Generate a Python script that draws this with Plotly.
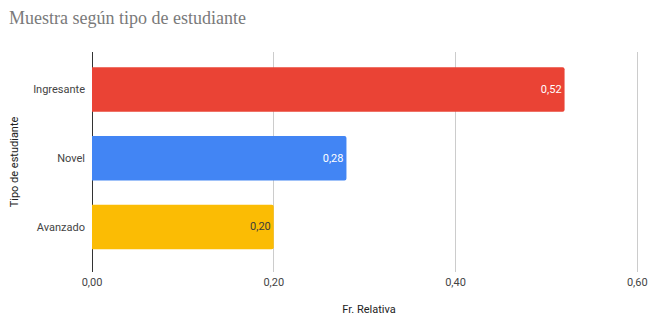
import plotly.graph_objects as go

categories = ["Avanzado", "Novel", "Ingresante"]
values = [0.20, 0.28, 0.52]
colors = ["#FBBC04", "#4285F4", "#EA4335"]
text_colors = ["#3c3c3c", "#ffffff", "#ffffff"]
x_ticks = [0, 0.2, 0.4, 0.6]

fig = go.Figure(go.Bar(
    x=values, y=categories, orientation="h",
    marker=dict(color=colors, line=dict(width=0), cornerradius=2),
    text=values, texttemplate="%{x:.2f}", textposition="inside",
    insidetextanchor="end",
    textfont=dict(family="Roboto, Arial, sans-serif", size=11, color=text_colors),
    width=0.647,
    hoverinfo="skip",
))

fig.update_layout(
    width=649, height=316,
    margin=dict(l=92, r=3, t=52, b=44, autoexpand=False),
    paper_bgcolor="white", plot_bgcolor="white",
    separators=",.",
    title=dict(text="Muestra según tipo de estudiante", x=0.014, xanchor="left",
               y=0.945, yanchor="middle", automargin=False,
               font=dict(family="Liberation Serif, Times New Roman, serif", size=18, color="#7a7a7a")),
    font=dict(family="Roboto, Arial, sans-serif", size=11, color="#444444"),
    showlegend=False,
)
fig.update_xaxes(
    range=[0, 0.6096], tickvals=x_ticks, tickformat=".2f", automargin=False,
    showgrid=True, gridcolor="#cccccc", gridwidth=1,
    zeroline=True, zerolinecolor="#333333", zerolinewidth=1,
    showline=False, ticks="", ticklabelstandoff=2,
    tickfont=dict(size=11, color="#444444"),
    title=dict(text="Fr. Relativa", font=dict(size=11, color="#222222"), standoff=20),
)
fig.update_yaxes(
    range=[-0.655, 2.545], showgrid=False, zeroline=False, showline=False, ticks="",
    automargin=False, ticklabelstandoff=6,
    tickfont=dict(size=11, color="#444444"),
    title=dict(text="Tipo de estudiante", font=dict(size=11, color="#222222"), standoff=12),
)

fig.write_html("out.html", config={"displayModeBar": False},
               post_script="document.body.style.margin='0';document.body.style.overflow='hidden';")
